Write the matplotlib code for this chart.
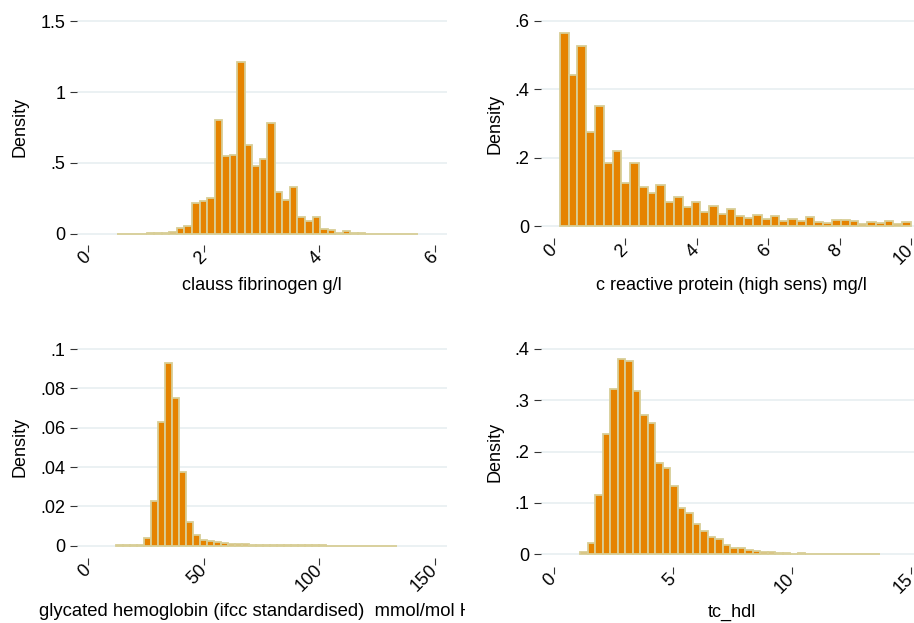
import numpy as np
import matplotlib.pyplot as plt
from matplotlib.transforms import Bbox, TransformedBbox

plt.rcParams['font.family'] = ['Liberation Sans', 'DejaVu Sans']

W, H = 914, 623

# histogram bins: first bin edge, bin width, densities
fib_start, fib_width = 0.49, 0.1304
fib_density = [0.002, 0, 0.002, 0.003, 0.004, 0.006, 0.010, 0.012, 0.042, 0.056,
               0.216, 0.230, 0.254, 0.800, 0.550, 0.554, 1.210, 0.627, 0.480, 0.530,
               0.780, 0.293, 0.240, 0.330, 0.117, 0.090, 0.120, 0.033, 0.028, 0.010,
               0.023, 0.007, 0.004, 0.003, 0.003, 0, 0.002, 0, 0, 0.002]

crp_start, crp_width = 0.17, 0.24575
crp_density = [0.566, 0.441, 0.526, 0.277, 0.352, 0.186, 0.221, 0.128, 0.186, 0.114,
               0.096, 0.120, 0.070, 0.087, 0.056, 0.070, 0.043, 0.060, 0.036, 0.050,
               0.031, 0.025, 0.033, 0.022, 0.029, 0.017, 0.022, 0.017, 0.027, 0.014,
               0.011, 0.018, 0.018, 0.015, 0.008, 0.014, 0.010, 0.016, 0.008, 0.012]

hba_start, hba_width = 12.0, 3.035
hba_density = [0.0002, 0.0002, 0.0003, 0.0005, 0.0042, 0.023, 0.063, 0.093, 0.075, 0.0375,
               0.012, 0.0056, 0.0032, 0.0024, 0.0019, 0.0013, 0.0010, 0.0008, 0.0007, 0.0006,
               0.0005, 0.0004, 0.0004, 0.0003, 0.0003, 0.0003, 0.0002, 0.0002, 0.0002, 0.0002,
               0.0001, 0.0001, 0.0001, 0.0001, 0.0001, 0.0001, 0, 0.0001, 0.0001, 0.0001]

tc_start, tc_width = 1.12, 0.3146
tc_density = [0.005, 0.023, 0.116, 0.235, 0.323, 0.380, 0.376, 0.318, 0.271, 0.256,
              0.178, 0.168, 0.133, 0.090, 0.080, 0.060, 0.045, 0.034, 0.030, 0.019,
              0.013, 0.012, 0.008, 0.006, 0.005, 0.004, 0.003, 0.003, 0.0015, 0.002,
              0.0015, 0.0015, 0.001, 0.001, 0.001, 0.001, 0.001, 0, 0, 0.001]

fib_yticks, fib_ylabels = [0, 0.5, 1, 1.5], ['0', '.5', '1', '1.5']
crp_yticks, crp_ylabels = [0, 0.2, 0.4, 0.6], ['0', '.2', '.4', '.6']
hba_yticks, hba_ylabels = [0, 0.02, 0.04, 0.06, 0.08, 0.1], ['0', '.02', '.04', '.06', '.08', '.1']
tc_yticks, tc_ylabels = [0, 0.1, 0.2, 0.3, 0.4], ['0', '.1', '.2', '.3', '.4']

fib_xticks = [0, 2, 4, 6]
crp_xticks = [0, 2, 4, 6, 8, 10]
hba_xticks = [0, 50, 100, 150]
tc_xticks = [0, 5, 10, 15]

FILL = '#E58300'
EDGE = '#D8CE96'
GRID = '#E6EEF0'


def panel(fig, box, xlim, ylim, start, width, density, xticks, yticks, ylabels):
    # box in pixels: left, top, right, bottom
    l, t, r, b = box
    ax = fig.add_axes([l / W, 1 - b / H, (r - l) / W, (b - t) / H])
    edges = start + width * np.arange(len(density))
    ax.bar(edges, density, width=width, align='edge', color=FILL,
           edgecolor=EDGE, linewidth=1.3, zorder=2)
    ax.set_xlim(xlim)
    ax.set_ylim(ylim)
    ax.set_yticks(yticks, ylabels)
    ax.set_xticks(xticks, [str(v) for v in xticks], rotation=45, ha='right',
                  va='center', rotation_mode='anchor')
    ax.yaxis.grid(True, color=GRID, linewidth=1.1, zorder=0)
    ax.set_axisbelow(True)
    for s in ax.spines.values():
        s.set_visible(False)
    ax.tick_params(axis='both', length=5, width=0.8, color='#333333',
                   labelsize=13, labelcolor='black')
    ax.tick_params(axis='y', pad=3.5)
    ax.tick_params(axis='x', pad=2)
    return ax


fig = plt.figure(figsize=(W / 100, H / 100), dpi=100)

panel(fig, (77, 10, 447, 245), (-0.196, 6.208), (-0.0775, 1.5775),
      fib_start, fib_width, fib_density, fib_xticks, fib_yticks, fib_ylabels)
panel(fig, (541, 10, 923, 238), (-0.36, 10.336), (-0.034, 0.632),
      crp_start, crp_width, crp_density, crp_xticks, crp_yticks, crp_ylabels)
panel(fig, (77, 338, 447, 558), (-4.89, 155.2), (-0.0062, 0.1056),
      hba_start, hba_width, hba_density, hba_xticks, hba_yticks, hba_ylabels)
panel(fig, (541, 338, 923, 567), (-0.533, 15.504), (-0.0247, 0.4214),
      tc_start, tc_width, tc_density, tc_xticks, tc_yticks, tc_ylabels)

# axis titles, placed like the Stata combined graph
for x, y in [(20, 127), (495, 124), (20, 447), (495, 452)]:
    fig.text(x / W, 1 - y / H, 'Density', rotation=90, ha='center', va='center', fontsize=13)

fig.text(262 / W, 1 - 285 / H, 'clauss fibrinogen g/l', ha='center', va='center', fontsize=13)
fig.text(731 / W, 1 - 285 / H, 'c reactive protein (high sens) mg/l', ha='center', va='center', fontsize=13)
# the long title runs past its panel and is cut off in the combined graph
t = fig.text(39 / W, 1 - 612 / H, 'glycated hemoglobin (ifcc standardised)  mmol/mol Hb',
             ha='left', va='center', fontsize=13.3)
t.set_clip_box(TransformedBbox(Bbox.from_extents(0, 0, 465 / W, 1), fig.transFigure))
t.set_clip_on(True)
fig.text(732 / W, 1 - 612 / H, 'tc_hdl', ha='center', va='center', fontsize=13)

fig.savefig('out.png', dpi=100, facecolor='white')
